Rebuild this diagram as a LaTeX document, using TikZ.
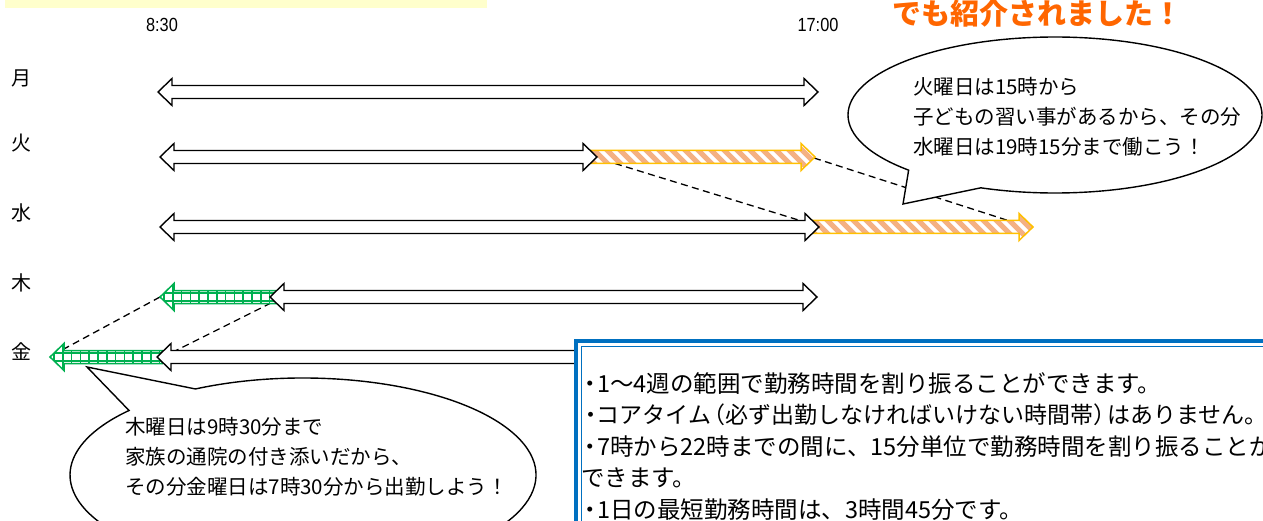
\documentclass[tikz,border=0pt]{standalone}
\usepackage{fontspec}
\newfontfamily\jp{Noto Sans CJK JP}
\newfontfamily\narrowsans[FakeStretch=0.86]{Liberation Sans}
\definecolor{bandyellow}{RGB}{255,255,204}
\definecolor{titleorange}{RGB}{255,102,0}
\definecolor{stripesalmon}{RGB}{244,177,131}
\definecolor{stripeborder}{RGB}{255,192,0}
\definecolor{gridgreen}{RGB}{0,176,80}
\definecolor{boxblue}{RGB}{0,112,192}
% white double-headed block arrow: #1 left tip, #2 right tip, #3 centre y
\newcommand\whitedbl[3]{%
  \draw[arrowline] (#1,#3) -- (#1+14,#3-13.5) -- (#1+14,#3-6.5) -- (#2-14,#3-6.5)
    -- (#2-14,#3-13.5) -- (#2,#3) -- (#2-14,#3+13.5) -- (#2-14,#3+6.5)
    -- (#1+14,#3+6.5) -- (#1+14,#3+13.5) -- cycle;}
% striped right arrow: #1 tail, #2 tip, #3 centre y
\newcommand\stripedright[3]{%
  \begin{scope}
    \clip (#1,#3-6.5) -- (#2-14,#3-6.5) -- (#2-14,#3-13.5) -- (#2,#3)
      -- (#2-14,#3+13.5) -- (#2-14,#3+6.5) -- (#1,#3+6.5) -- cycle;
    \fill[white] (#1-5,#3-20) rectangle (#2+5,#3+20);
    \foreach \k in {0,...,21}{\draw[stripesalmon,line width=5pt] ({#1-30+\k*13},#3-15) -- ++(30,30);}
  \end{scope}
  \draw[stripeborder,line width=1.5pt] (#1,#3-6.5) -- (#2-14,#3-6.5) -- (#2-14,#3-13.5) -- (#2,#3)
      -- (#2-14,#3+13.5) -- (#2-14,#3+6.5) -- (#1,#3+6.5) -- cycle;}
% gridded left arrow: #1 tip, #2 tail, #3 centre y
\newcommand\gridleft[3]{%
  \begin{scope}
    \clip (#2,#3-6.5) -- (#1+14,#3-6.5) -- (#1+14,#3-13.5) -- (#1,#3)
      -- (#1+14,#3+13.5) -- (#1+14,#3+6.5) -- (#2,#3+6.5) -- cycle;
    \fill[white] (#1-5,#3-20) rectangle (#2+5,#3+20);
    \draw[gridgreen,line width=1.6pt] (#1-5,#3-4.2) -- (#2+5,#3-4.2) (#1-5,#3+4.2) -- (#2+5,#3+4.2)
      (#1-5,#3-12.6) -- (#2+5,#3-12.6) (#1-5,#3+12.6) -- (#2+5,#3+12.6);
    \foreach \k in {0,...,13}{\draw[gridgreen,line width=1.6pt] ({#1+4+\k*8.8},#3-20) -- ++(0,40);}
  \end{scope}
  \draw[gridgreen,line width=1.5pt] (#2,#3-6.5) -- (#1+14,#3-6.5) -- (#1+14,#3-13.5) -- (#1,#3)
      -- (#1+14,#3+13.5) -- (#1+14,#3+6.5) -- (#2,#3+6.5) -- cycle;}
\newcommand\narrowdot{\makebox[0.55em][c]{・}}
\newcommand\openpar{\makebox[0.6em][r]{（}}
\newcommand\closepar{\makebox[0.6em][l]{）}}
\begin{document}
\begin{tikzpicture}[x=1pt,y=-1pt,line join=miter,
  arrowline/.style={draw=black,fill=white,line width=1.4pt},
  dashlink/.style={draw=black,line width=1.3pt,dash pattern=on 7pt off 4.5pt},
  callout/.style={draw=black,fill=white,line width=1.4pt},
  daylabel/.style={font=\jp\fontsize{20}{20}\selectfont,inner sep=0},
  timelabel/.style={font=\narrowsans\fontsize{19}{19}\selectfont,inner sep=0},
  calltext/.style={font=\jp\fontsize{20.5}{20.5}\selectfont,inner sep=0,anchor=base west},
  boxtext/.style={font=\jp\fontsize{23.5}{23.5}\selectfont,inner sep=0,anchor=base west}]
\useasboundingbox (0,0) rectangle (1263,521);
\clip (0,0) rectangle (1263,521);
\fill[white] (0,0) rectangle (1263,521);

% top remnants
\fill[bandyellow] (5,-5) rectangle (487,8);
\node[anchor=base,font=\jp\bfseries\fontsize{29}{29}\selectfont,text=titleorange,inner sep=0] (title) at (1037,25) {でも紹介されました！};

% time labels
\node[timelabel] (t830) at (162,25) {8:30};
\node[timelabel] (t1700) at (818,25) {17:00};

% day labels
\node[daylabel] (mon) at (22,78) {月};
\node[daylabel] (tue) at (22,143) {火};
\node[daylabel] (wed) at (22,213) {水};
\node[daylabel] (thu) at (22,283) {木};
\node[daylabel] (fri) at (22,352) {金};

% link points
\coordinate (tueStart) at (615,163.5);
\coordinate (wedJoin) at (800,220.5);
\coordinate (tueEnd) at (814,158);
\coordinate (wedEnd) at (1008,220.5);
\coordinate (thuTip) at (160,297);
\coordinate (friTip) at (62,350);
\coordinate (thuHead) at (271,303);
\coordinate (friHead) at (176,350.5);

\draw[dashlink] (tueStart) -- (wedJoin);
\draw[dashlink] (tueEnd) -- (wedEnd);
\draw[dashlink] (thuTip) -- (friTip);
\draw[dashlink] (thuHead) -- (friHead);

% Monday
\whitedbl{158}{818}{92}
% Tuesday
\stripedright{590}{815}{157}
\whitedbl{160}{597}{157}
% Wednesday
\stripedright{810}{1033}{227}
\whitedbl{160}{819}{227}
% Thursday
\gridleft{160}{276}{297}
\whitedbl{270}{817}{297}
% Friday
\gridleft{50}{162}{357}
\whitedbl{157}{818}{357}

% top callout
\draw[callout] ({1055+207*cos(135)},{115+78*sin(135)})
  arc[start angle=135,end angle=471,x radius=207,y radius=78] -- (903,204) -- cycle;
\node[calltext] (c1a) at (913,95) {火曜日は15時から};
\node[calltext] (c1b) at (913,125) {子どもの習い事があるから、その分};
\node[calltext] (c1c) at (913,155) {水曜日は19時15分まで働こう！};

% bottom callout
\draw[callout] ({303+233*cos(242.5)},{475+97*sin(242.5)})
  arc[start angle=242.5,end angle=581.7,x radius=233,y radius=97] -- (87,367) -- cycle;
\node[calltext] (c2a) at (125,434) {木曜日は9時30分まで};
\node[calltext] (c2b) at (125,464) {家族の通院の付き添いだから、};
\node[calltext] (c2c) at (125,494) {その分金曜日は7時30分から出勤しよう！};

% info box
\draw[boxblue,line width=4pt,fill=white] (576,341) rectangle (1280,540);
\draw[boxblue,line width=1.4pt] (581.5,346.5) rectangle (1280,540);
\node[boxtext] (b1) at (584,392) {\narrowdot 1〜4週の範囲で勤務時間を割り振ることができます。};
\node[boxtext,font=\jp\fontsize{23}{23}\selectfont] (b2) at (584,423.5) {\narrowdot コアタイム\openpar 必ず出勤しなければいけない時間帯\closepar はありません。};
\node[boxtext] (b3) at (584,455) {\narrowdot 7時から22時までの間に、15分単位で勤務時間を割り振ることが};
\node[boxtext] (b4) at (581,486.5) {できます。};
\node[boxtext] (b5) at (584,518) {\narrowdot 1日の最短勤務時間は、3時間45分です。};
\end{tikzpicture}
\end{document}
